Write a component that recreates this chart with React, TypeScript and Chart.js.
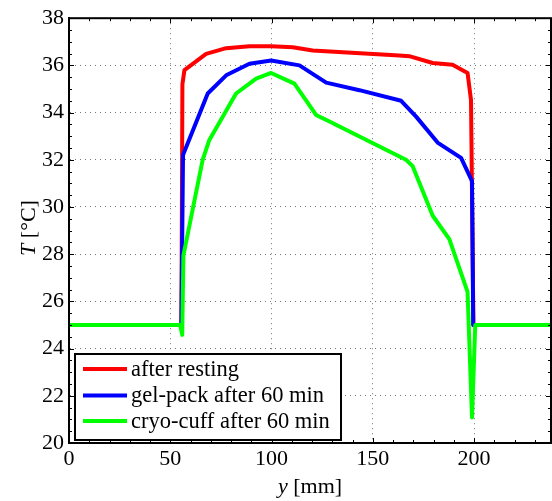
import React, { useEffect, useRef } from "react";
import { Chart, registerables } from "chart.js";

Chart.register(...registerables);

const seriesLabels = ["after resting", "gel-pack after 60 min", "cryo-cuff after 60 min"];
const seriesColors = ["#ff0000", "#0000ff", "#00ff00"];

const restingX = [0, 55.5, 56, 57, 67.7, 77.6, 89.1, 99.8, 110.5, 120.3, 163.1, 168, 179.6, 189.4, 196.8, 198.5, 199.7, 200, 238];
const restingY = [25, 25, 35.2, 35.8, 36.49, 36.73, 36.81, 36.81, 36.77, 36.63, 36.42, 36.39, 36.1, 36.03, 35.68, 34.53, 25, 25, 25];

const gelX = [0, 55.5, 56.3, 68.5, 77.6, 89.1, 99.8, 113.8, 127, 143.4, 164, 171.4, 182, 193.6, 199, 199.6, 238];
const gelY = [25, 25, 32.2, 34.81, 35.58, 36.07, 36.21, 36.0, 35.27, 34.95, 34.5, 33.83, 32.73, 32.08, 31.1, 25, 25];

const cryoX = [0, 54.9, 55.9, 56.5, 66, 69.3, 82.5, 92.4, 99.8, 111.3, 122, 128.6, 166.4, 169.7, 179.6, 187.8, 196.8, 199, 200.6, 238];
const cryoY = [25, 25, 24.58, 27.95, 32.0, 32.84, 34.81, 35.44, 35.68, 35.23, 33.9, 33.62, 32.0, 31.73, 29.63, 28.64, 26.4, 21.08, 25, 25];

const xMin = 0;
const xMax = 238;
const xStep = 50;
const yMin = 20;
const yMax = 38;
const yStep = 2;

const xTitleItalic = "y";
const xTitleRest = " [mm]";
const yTitleItalic = "T";
const yTitleRest = " [°C]";

const SERIF = "'Liberation Serif', 'Times New Roman', serif";

function pts(xs: number[], ys: number[]) {
  return xs.map((x, i) => ({ x, y: ys[i] }));
}

const decorPlugin = {
  id: "decor",
  afterDraw(chart: any) {
    const { ctx, chartArea } = chart;
    const { left, right, top, bottom } = chartArea;
    const xs = chart.scales.x;
    const ys = chart.scales.y;
    ctx.save();
    ctx.strokeStyle = "#000";
    ctx.lineWidth = 1;
    ctx.beginPath();
    for (let v = xMin; v <= xMax + 1e-9; v += 10) {
      const px = Math.round(xs.getPixelForValue(v)) + 0.5;
      const len = v % xStep === 0 ? 5 : 3;
      ctx.moveTo(px, bottom);
      ctx.lineTo(px, bottom - len);
      ctx.moveTo(px, top);
      ctx.lineTo(px, top + len);
    }
    for (let v = yMin; v <= yMax + 1e-9; v += 0.5) {
      const py = Math.round(ys.getPixelForValue(v)) + 0.5;
      const len = Math.abs(v % yStep) < 1e-9 ? 5 : 3;
      ctx.moveTo(left, py);
      ctx.lineTo(left + len, py);
      ctx.moveTo(right, py);
      ctx.lineTo(right - len, py);
    }
    ctx.stroke();
    ctx.lineWidth = 2;
    ctx.strokeRect(left, top, right - left, bottom - top);

    // legend box
    const lx = 75, ly = 354, lw = 266, lh = 86;
    ctx.fillStyle = "#fff";
    ctx.fillRect(lx, ly, lw, lh);
    ctx.lineWidth = 2;
    ctx.strokeStyle = "#000";
    ctx.strokeRect(lx, ly, lw, lh);
    ctx.font = `22.5px ${SERIF}`;
    ctx.textBaseline = "middle";
    ctx.textAlign = "left";
    const rows = [369, 395.5, 421];
    chart.data.datasets.forEach((ds: any, i: number) => {
      const y = rows[i];
      ctx.strokeStyle = ds.borderColor;
      ctx.lineWidth = 4;
      ctx.beginPath();
      ctx.moveTo(83, y);
      ctx.lineTo(127, y);
      ctx.stroke();
      ctx.fillStyle = "#000";
      ctx.fillText(ds.label, 131, y + 1);
    });

    // axis titles
    ctx.fillStyle = "#000";
    ctx.textBaseline = "alphabetic";
    const drawMixed = (italic: string, rest: string, cx: number, cy: number, rot: number) => {
      ctx.save();
      ctx.translate(cx, cy);
      ctx.rotate(rot);
      ctx.font = `italic 22px ${SERIF}`;
      const w1 = ctx.measureText(italic).width;
      ctx.font = `22px ${SERIF}`;
      const w2 = ctx.measureText(rest).width;
      const start = -(w1 + w2) / 2;
      ctx.textAlign = "left";
      ctx.font = `italic 22px ${SERIF}`;
      ctx.fillText(italic, start, 0);
      ctx.font = `22px ${SERIF}`;
      ctx.fillText(rest, start + w1, 0);
      ctx.restore();
    };
    drawMixed(xTitleItalic, xTitleRest, 310, 493, 0);
    drawMixed(yTitleItalic, yTitleRest, 35, 228, -Math.PI / 2);
    ctx.restore();
  },
};

export default function App() {
  const ref = useRef<HTMLCanvasElement | null>(null);
  useEffect(() => {
    if (!ref.current) return;
    const chart = new Chart(ref.current, {
      type: "line",
      data: {
        datasets: [
          { label: seriesLabels[0], data: pts(restingX, restingY), borderColor: seriesColors[0], order: 3 },
          { label: seriesLabels[1], data: pts(gelX, gelY), borderColor: seriesColors[1], order: 2 },
          { label: seriesLabels[2], data: pts(cryoX, cryoY), borderColor: seriesColors[2], order: 1 },
        ].map((d) => ({ ...d, borderWidth: 4, pointRadius: 0, tension: 0, fill: false, borderJoinStyle: "round" as const, borderCapStyle: "round" as const })),
      },
      options: {
        animation: false,
        responsive: false,
        maintainAspectRatio: false,
        layout: { padding: { left: 0, right: 1, top: 14, bottom: 0 } },
        plugins: { legend: { display: false }, tooltip: { enabled: false } },
        scales: {
          x: {
            type: "linear",
            min: xMin,
            max: xMax,
            afterBuildTicks: (s: any) => {
              const t = [];
              for (let v = xMin; v <= xMax; v += xStep) t.push({ value: v });
              s.ticks = t;
            },
            afterFit: (s: any) => { s.height = 58; },
            ticks: { color: "#000", font: { family: SERIF, size: 22 }, padding: 3, maxRotation: 0 },
            grid: { color: "#777", lineWidth: 1, drawTicks: false },
            border: { display: true, color: "#000", width: 2, dash: [1, 4] },
          },
          y: {
            type: "linear",
            min: yMin,
            max: yMax,
            ticks: { stepSize: yStep, color: "#000", font: { family: SERIF, size: 22 }, padding: 5 },
            afterFit: (s: any) => { s.width = 69; },
            grid: { color: "#777", lineWidth: 1, drawTicks: false },
            border: { display: true, color: "#000", width: 2, dash: [1, 4] },
          },
        },
      },
      plugins: [decorPlugin],
    } as any);
    return () => chart.destroy();
  }, []);
  return (
    <div style={{ position: "fixed", left: 0, top: 0, width: 552, height: 501, background: "#fff" }}>
      <canvas ref={ref} width={552} height={501} style={{ width: 552, height: 501, display: "block" }} />
    </div>
  );
}
